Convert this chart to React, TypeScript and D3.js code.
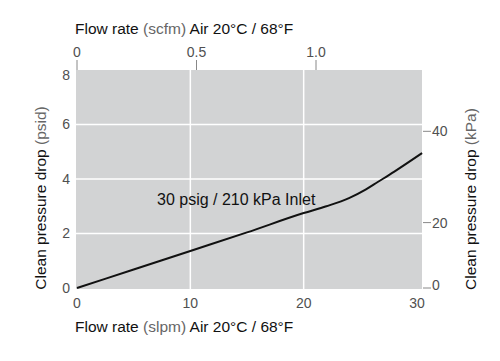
import React from "react";
import * as d3 from "d3";

const slpmValues = [0, 5, 10, 15, 20, 22, 24, 25.5, 26.5, 28, 30.45];
const psidValues = [0, 0.68, 1.36, 2.04, 2.75, 3.0, 3.3, 3.62, 3.88, 4.27, 4.95];

const bottomTicks = [0, 10, 20, 30];
const leftTicks = [0, 2, 4, 6, 8];
const topTicks = [0, 0.5, 1.0];
const topTickLabels = ["0", "0.5", "1.0"];
const rightTicks = [0, 20, 40];
const rightTickPsi = [0, 2.4, 5.75];
const vGrid = [10, 20];
const hGrid = [2, 4, 6];

const W = 500;
const H = 361;
const FONT = "'Liberation Sans', Arial, Helvetica, sans-serif";

export default function App() {
  const x = d3.scaleLinear().domain([0, 30]).range([77, 417]);
  const y = d3.scaleLinear().domain([0, 8]).range([288, 70]);
  const xTop = d3.scaleLinear().domain([0, 1]).range([77, 316]);
  const yRight = d3.scaleLinear().domain(rightTicks).range(rightTickPsi.map((p) => y(p)));

  const plotLeft = 76;
  const plotRight = 422;
  const plotTop = y(8);
  const plotBottom = 289;

  const pts: [number, number][] = slpmValues.map((v, i) => [v, psidValues[i]]);
  const line = d3
    .line<[number, number]>()
    .x((d) => x(d[0]))
    .y((d) => y(d[1]))
    .curve(d3.curveMonotoneX);

  const tickColor = "#505050";
  const titleColor = "#111";

  return (
    <svg
      width={W}
      height={H}
      style={{ position: "absolute", left: 0, top: 0, background: "#fff" }}
      fontFamily={FONT}
    >
      <rect x={plotLeft} y={plotTop} width={plotRight - plotLeft} height={plotBottom - plotTop} fill="#d2d3d4" />
      {vGrid.map((v) => (
        <line key={"vg" + v} x1={x(v)} x2={x(v)} y1={plotTop} y2={plotBottom} stroke="#fff" strokeWidth={1.5} />
      ))}
      {hGrid.map((v) => (
        <line key={"hg" + v} x1={plotLeft} x2={plotRight} y1={y(v)} y2={y(v)} stroke="#fff" strokeWidth={1.5} />
      ))}

      <path d={line(pts) || ""} fill="none" stroke="#111" strokeWidth={2} />

      <text x={157} y={205} fontSize={16} fill="#111">
        30 psig / 210 kPa Inlet
      </text>

      {/* left axis */}
      {leftTicks.map((v) => (
        <text key={"lt" + v} x={70} y={y(v) + (v === 8 ? 5 : 0)} dy="0.35em" textAnchor="end" fontSize={14} fill={tickColor}>
          {v}
        </text>
      ))}
      <text
        transform={`translate(46, 198) rotate(-90)`}
        textAnchor="middle"
        fontSize={15.5}
        fill={titleColor}
      >
        Clean pressure drop <tspan fill="#666">(psid)</tspan>
      </text>

      {/* bottom axis */}
      {bottomTicks.map((v) => (
        <text key={"bt" + v} x={x(v)} y={303} dy="0.35em" textAnchor="middle" fontSize={14} fill={tickColor}>
          {v}
        </text>
      ))}
      <text x={75} y={332} fontSize={15.5} fill={titleColor}>
        Flow rate <tspan fill="#666">(slpm)</tspan> Air 20°C / 68°F
      </text>

      {/* top axis */}
      {topTicks.map((v, i) => (
        <g key={"tt" + v}>
          <line x1={xTop(v)} x2={xTop(v)} y1={60} y2={plotTop} stroke="#888" strokeWidth={1} />
          <text x={xTop(v)} y={52} dy="0.35em" textAnchor="middle" fontSize={14} fill={tickColor}>
            {topTickLabels[i]}
          </text>
        </g>
      ))}
      <text x={75} y={34} fontSize={15.5} fill={titleColor}>
        Flow rate <tspan fill="#666">(scfm)</tspan> Air 20°C / 68°F
      </text>

      {/* right axis */}
      {rightTicks.map((v) => (
        <g key={"rt" + v}>
          <line x1={plotRight + 1} x2={plotRight + 9} y1={yRight(v)} y2={yRight(v)} stroke="#888" strokeWidth={1} />
          <text x={432} y={yRight(v) - (v === 0 ? 3 : 0)} dy="0.35em" fontSize={14} fill={tickColor}>
            {v}
          </text>
        </g>
      ))}
      <text
        transform={`translate(476, 199) rotate(-90)`}
        textAnchor="middle"
        fontSize={15.5}
        fill={titleColor}
      >
        Clean pressure drop <tspan fill="#666">(kPa)</tspan>
      </text>
    </svg>
  );
}
